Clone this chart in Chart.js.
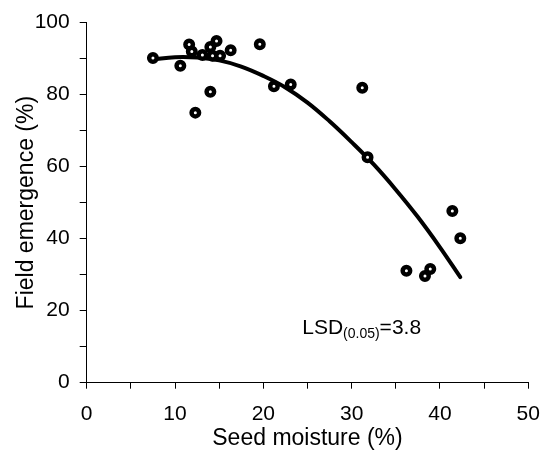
<!DOCTYPE html>
<html>
<head>
<meta charset="utf-8">
<script src="https://cdn.jsdelivr.net/npm/chart.js@4"></script>
<style>
  html, body { margin: 0; padding: 0; background: #fff; }
  #wrap { width: 542px; height: 453px; }
</style>
</head>
<body>
<div id="wrap"><canvas id="my_chart" width="542" height="453"></canvas></div>
<script>
// observed plots: seed moisture (%) vs field emergence (%)
const moisture = [7.5, 10.6, 11.6, 11.9, 12.3, 13.1, 14.0, 14.0, 14.7, 14.25, 15.1, 16.3, 19.6, 21.2, 23.1, 31.2, 31.8, 41.4, 42.3, 36.2, 38.9, 38.3];
const emergence = [90.2, 88.0, 93.9, 92.0, 75.0, 91.0, 80.8, 93.2, 94.9, 90.8, 90.8, 92.3, 94.0, 82.3, 82.8, 81.9, 62.6, 47.7, 40.1, 31.1, 31.6, 29.6];

// fitted curve
const curve_x = [7.5, 10, 12.5, 15, 17.5, 20, 22.5, 25, 27.5, 30, 32.5, 35, 37.5, 40, 42.3];
const curve_y = [89.8, 90.4, 90.3, 89.5, 87.8, 85.2, 82.0, 77.8, 72.6, 66.8, 60.6, 53.6, 46.0, 37.6, 29.3];

const x_ticks = [0, 10, 20, 30, 40, 50];
const y_ticks = [0, 20, 40, 60, 80, 100];

const font_family = '"Liberation Sans", Arial, Helvetica, sans-serif';

const lsd_note = {
    id: 'lsd_note',
    afterDraw(chart) {
        const ctx = chart.ctx;
        const x = chart.scales.x.getPixelForValue(24.4);
        const y = chart.scales.y.getPixelForValue(13.6);
        ctx.save();
        ctx.fillStyle = '#000';
        ctx.textBaseline = 'alphabetic';
        ctx.textAlign = 'left';
        ctx.font = '21px ' + font_family;
        ctx.fillText('LSD', x, y);
        let w = ctx.measureText('LSD').width;
        ctx.font = '14px ' + font_family;
        ctx.fillText('(0.05)', x + w, y + 4);
        w += ctx.measureText('(0.05)').width;
        ctx.font = '21px ' + font_family;
        ctx.fillText('=3.8', x + w, y);
        ctx.restore();
    }
};

const ctx = document.getElementById('my_chart').getContext('2d');
window.my_chart = new Chart(ctx, {
    type: 'scatter',
    data: {
        datasets: [{
            data: moisture.map((m, i) => ({ x: m, y: emergence[i] })),
            pointRadius: 3.75,
            pointBorderWidth: 4.5,
            pointBorderColor: '#000',
            pointBackgroundColor: '#fff',
            showLine: false,
            order: 0
        }, {
            type: 'line',
            data: curve_x.map((m, i) => ({ x: m, y: curve_y[i] })),
            borderColor: '#000',
            borderWidth: 4,
            borderCapStyle: 'round',
            pointRadius: 0,
            tension: 0.4,
            fill: false,
            order: 1
        }]
    },
    options: {
        responsive: false,
        animation: false,
        devicePixelRatio: 1,
        layout: { padding: { top: 19, right: 0, left: 0, bottom: 0 } },
        plugins: { legend: { display: false }, tooltip: { enabled: false } },
        scales: {
            x: {
                type: 'linear',
                min: 0, max: 50,
                afterFit: s => { s.height = 70.3; s.paddingRight = 13.7; s.paddingLeft = 0; },
                border: { display: true, color: '#000', width: 1 },
                grid: { drawOnChartArea: false, drawTicks: true, tickLength: 6, color: '#000' },
                ticks: {
                    stepSize: 5,
                    padding: 13,
                    color: '#000',
                    font: { family: font_family, size: 21 },
                    callback: v => x_ticks.includes(v) ? String(v) : ''
                },
                title: {
                    display: true,
                    text: 'Seed moisture (%)',
                    color: '#000',
                    font: { family: font_family, size: 23 },
                    padding: { top: 0, bottom: 1 }
                }
            },
            y: {
                type: 'linear',
                min: 0, max: 100,
                afterFit: s => { s.width = 86.7; },
                border: { display: true, color: '#000', width: 1 },
                grid: { drawOnChartArea: false, drawTicks: true, tickLength: 7, color: '#000' },
                ticks: {
                    stepSize: 10,
                    padding: 10,
                    color: '#000',
                    font: { family: font_family, size: 21 },
                    callback: v => y_ticks.includes(v) ? String(v) : ''
                },
                title: {
                    display: true,
                    text: 'Field emergence (%)',
                    color: '#000',
                    font: { family: font_family, size: 23 },
                    padding: { top: 13, bottom: 0 }
                }
            }
        }
    },
    plugins: [lsd_note]
});
</script>
</body>
</html>
